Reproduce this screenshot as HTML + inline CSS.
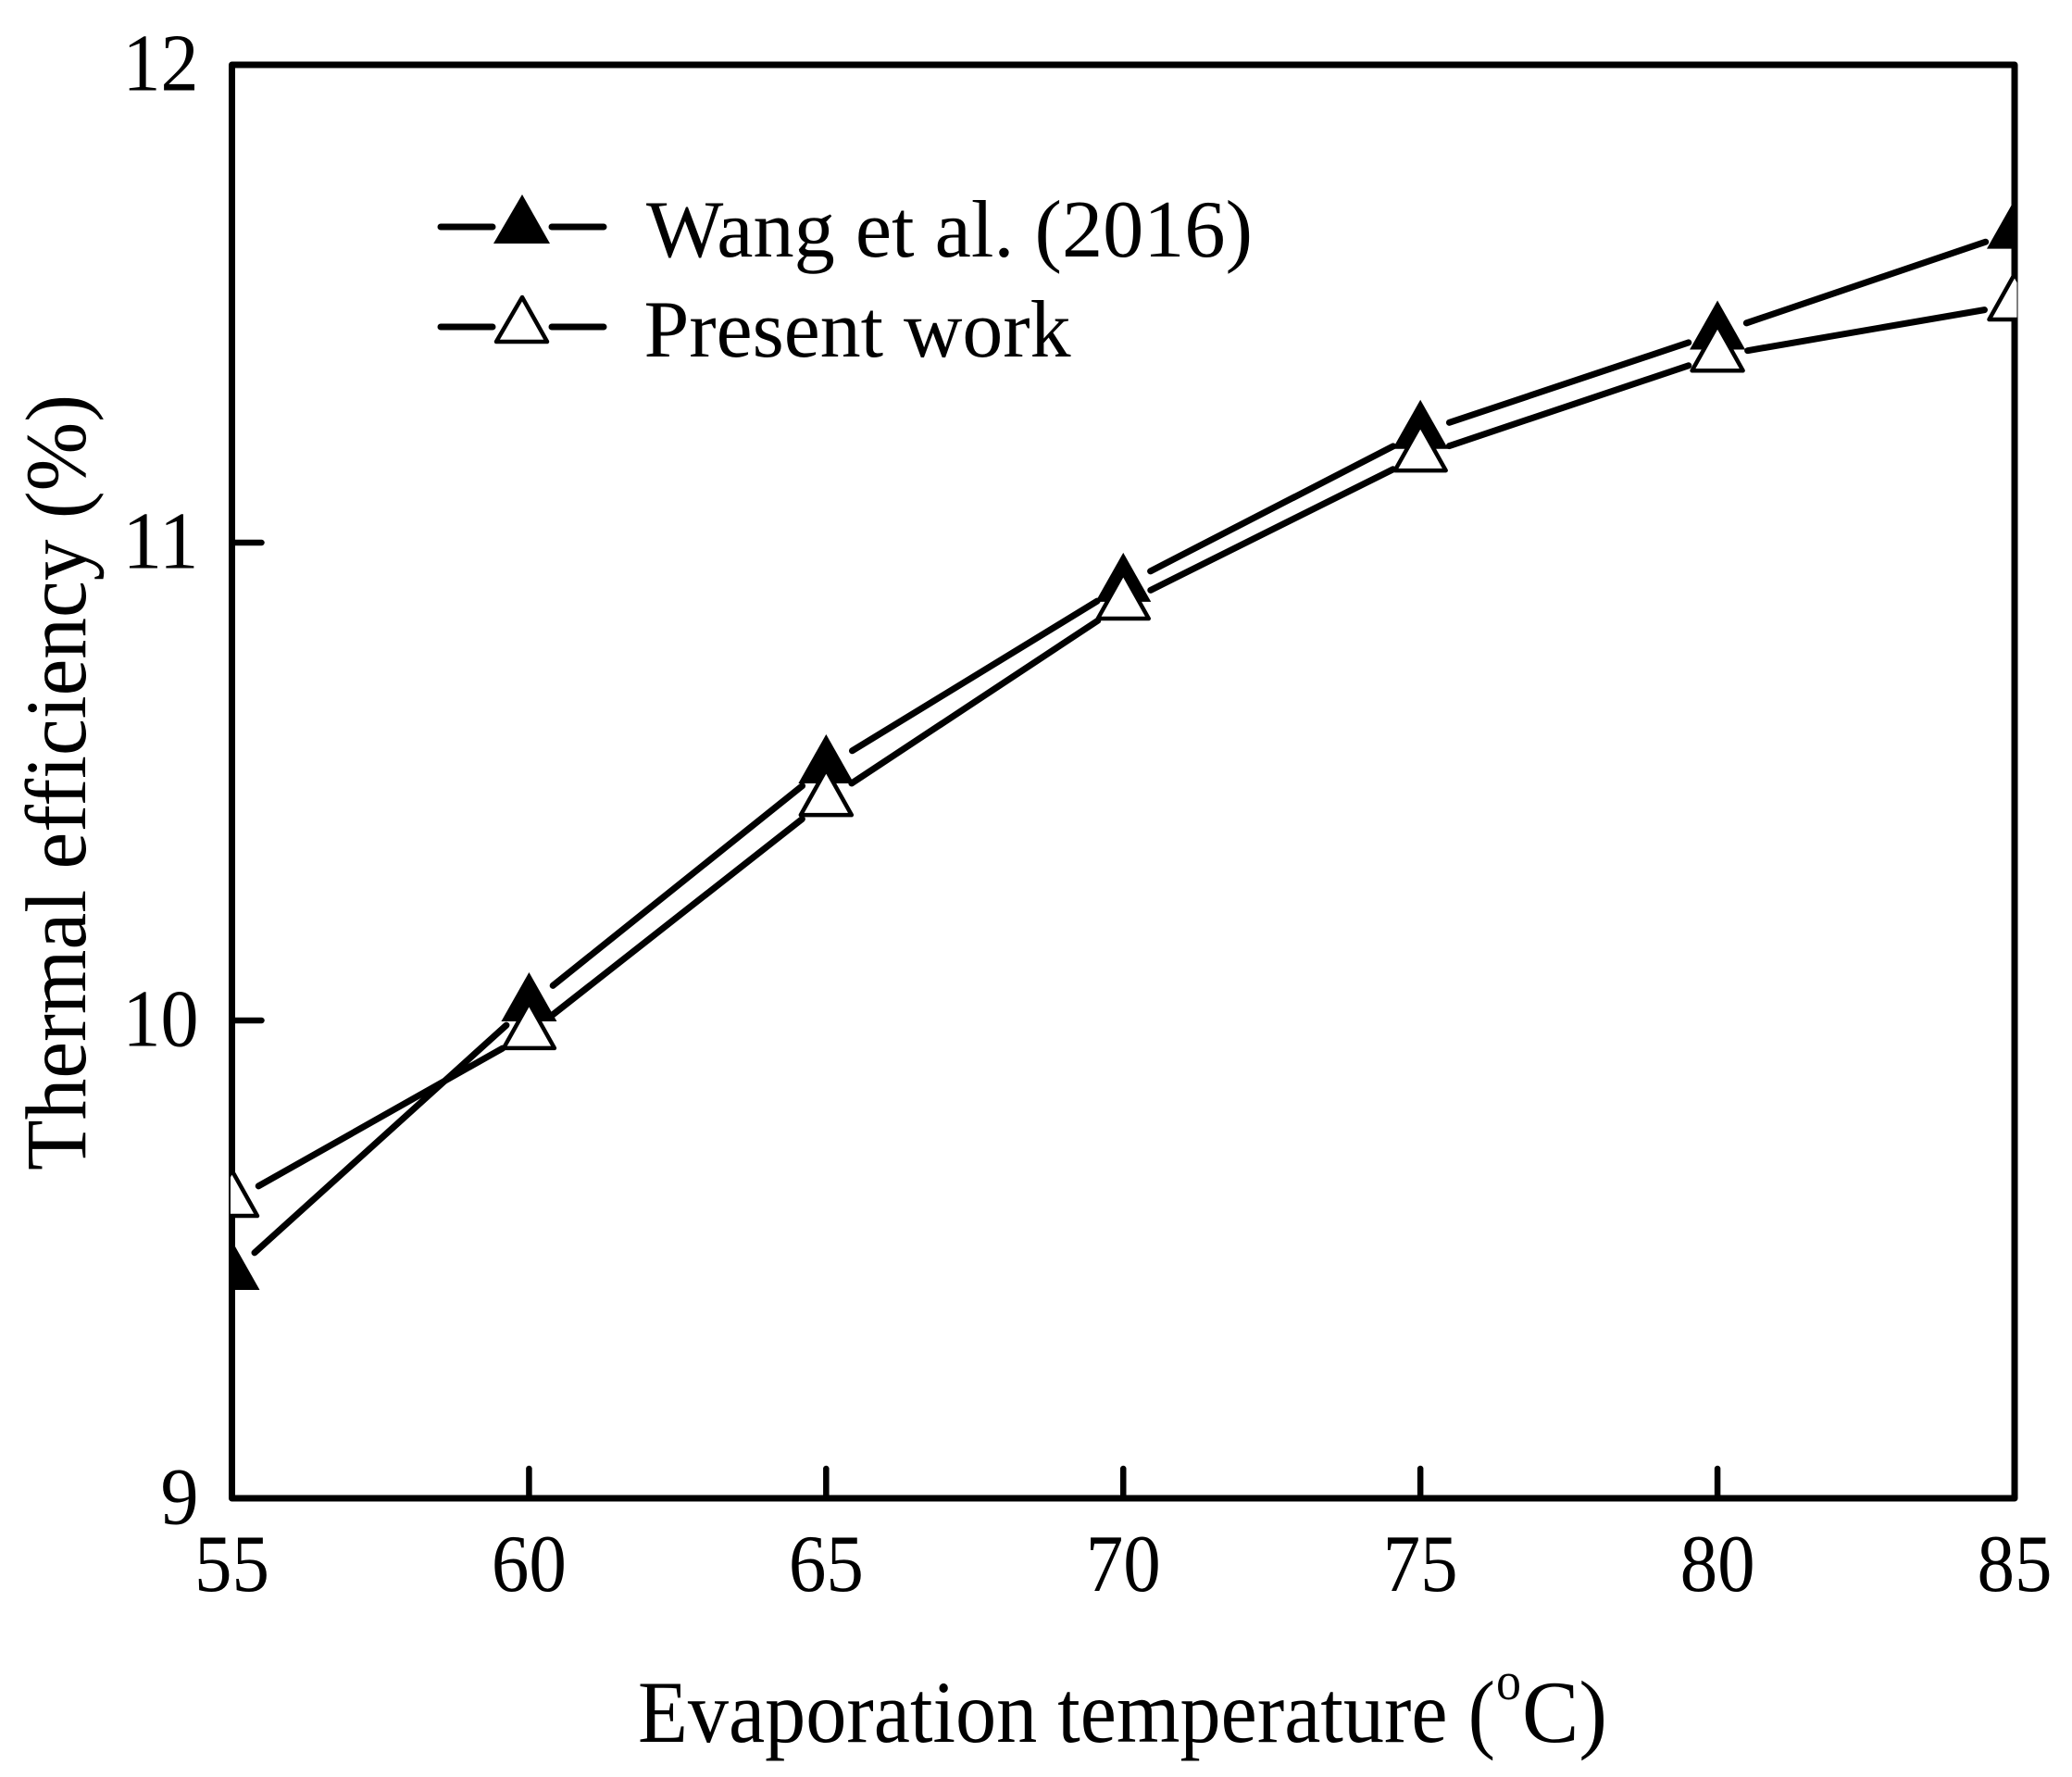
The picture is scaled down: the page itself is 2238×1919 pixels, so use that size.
<!DOCTYPE html>
<html lang="en">
<head>
<meta charset="utf-8">
<title>Thermal efficiency vs evaporation temperature</title>
<style>
html,body{margin:0;padding:0;background:#fff;width:2238px;height:1919px;overflow:hidden}
svg{display:block}
text{font-family:"Liberation Serif",serif;fill:#000;font-variant-ligatures:none;font-kerning:normal}
</style>
</head>
<body>
<svg id="chart" xmlns="http://www.w3.org/2000/svg" width="2238" height="1919" viewBox="0 0 2238 1919">
  <defs>
    <clipPath id="plot-clip"><rect x="249" y="60" width="1929.5" height="1570"/></clipPath>
  </defs>
  <rect width="2238" height="1919" fill="#fff"/>
  <g id="axes"></g>
  <g id="series"></g>
  <g id="labels"></g>
  <g>
    <g>
      <line x1="476" y1="245" x2="532" y2="245" stroke="#000" stroke-width="7" stroke-linecap="round"/>
      <line x1="596" y1="245" x2="652" y2="245" stroke="#000" stroke-width="7" stroke-linecap="round"/>
      <polygon points="564,210 594,263 533,263" fill="#000"/>
      <text x="698" y="277" font-size="88" textLength="655" lengthAdjust="spacingAndGlyphs">Wang et al. (2016)</text>
    </g>
    <g>
      <line x1="476" y1="353" x2="532" y2="353" stroke="#000" stroke-width="7" stroke-linecap="round"/>
      <line x1="596" y1="353" x2="652" y2="353" stroke="#000" stroke-width="7" stroke-linecap="round"/>
      <polygon points="564,321 591,369 536,369" fill="#fff" stroke="#000" stroke-width="4.5" stroke-linejoin="round"/>
      <text x="695.5" y="385" font-size="88" textLength="461" lengthAdjust="spacingAndGlyphs">Present work</text>
    </g>
  </g>
  <text transform="translate(92,1264) rotate(-90)" font-size="93" textLength="838" lengthAdjust="spacingAndGlyphs">Thermal efficiency (%)</text>
  <g>
    <text x="689" y="1881" font-size="95" textLength="926" lengthAdjust="spacingAndGlyphs">Evaporation temperature (</text>
    <text x="1616" y="1835" font-size="58" textLength="27" lengthAdjust="spacingAndGlyphs">o</text>
    <text x="1644" y="1881" font-size="95" textLength="92" lengthAdjust="spacingAndGlyphs">C)</text>
  </g>
</svg>
<script>
var temperatures = [55, 60, 65, 70, 75, 80, 85];
var wangValues = [9.471, 10.033, 10.531, 10.911, 11.231, 11.439, 11.65];
var presentValues = [9.622, 9.973, 10.461, 10.872, 11.182, 11.391, 11.498];
var xTickLabels = [55, 60, 65, 70, 75, 80, 85];
var yTickLabels = [9, 10, 11, 12];

var NS = 'http://www.w3.org/2000/svg';
var LEFT = 250.5, RIGHT = 2176, TOP = 70, BOTTOM = 1618;
function xScale(v) { return LEFT + (v - 55) / 30 * (RIGHT - LEFT); }
function yScale(v) { return BOTTOM - (v - 9) / 3 * (BOTTOM - TOP); }
function make(tag, attrs, parent) {
  var el = document.createElementNS(NS, tag);
  for (var k in attrs) el.setAttribute(k, attrs[k]);
  parent.appendChild(el);
  return el;
}
var axes = document.getElementById('axes');
var labels = document.getElementById('labels');
var seriesGroup = document.getElementById('series');

var frame = make('rect', {x: LEFT, y: TOP, width: RIGHT - LEFT, height: BOTTOM - TOP, fill: 'none', stroke: '#000', 'stroke-width': 7, 'stroke-linejoin': 'round'}, axes);



xTickLabels.forEach(function (t) {
  var x = xScale(t);
  if (t !== 55 && t !== 85) {
    var tick = make('line', {x1: x, x2: x, y1: BOTTOM, y2: BOTTOM - 32, stroke: '#000', 'stroke-width': 6.5, 'stroke-linecap': 'round'}, axes);
    
    
  }
  var lab = make('text', {x: x, y: 1718, 'font-size': 88, 'text-anchor': 'middle', textLength: 81, lengthAdjust: 'spacingAndGlyphs'}, labels);
  
  
  lab.textContent = t;
});
yTickLabels.forEach(function (t) {
  var y = yScale(t);
  if (t !== 9 && t !== 12) {
    var tick = make('line', {x1: LEFT, x2: LEFT + 32, y1: y, y2: y, stroke: '#000', 'stroke-width': 6.5, 'stroke-linecap': 'round'}, axes);
    
    
  }
  var lab = make('text', {x: 214.5, y: y + 27.5, 'font-size': 88, 'text-anchor': 'end', textLength: String(t).length * 41, lengthAdjust: 'spacingAndGlyphs'}, labels);
  
  
  lab.textContent = t;
});

function drawSeries(values, filled, name) {
  var g = make('g', {}, seriesGroup);
  
  
  var GAP = 33;
  for (var i = 0; i < values.length - 1; i++) {
    var x1 = xScale(temperatures[i]), y1 = yScale(values[i]);
    var x2 = xScale(temperatures[i + 1]), y2 = yScale(values[i + 1]);
    var len = Math.sqrt((x2 - x1) * (x2 - x1) + (y2 - y1) * (y2 - y1));
    var ux = (x2 - x1) / len, uy = (y2 - y1) / len;
    var seg = make('line', {x1: x1 + ux * GAP, y1: y1 + uy * GAP, x2: x2 - ux * GAP, y2: y2 - uy * GAP, stroke: '#000', 'stroke-width': 7, 'stroke-linecap': 'round'}, g);
    
    
  }
  var clip = make('g', {'clip-path': 'url(#plot-clip)'}, g);
  values.forEach(function (v, i) {
    var cx = xScale(temperatures[i]), cy = yScale(v);
    var pts = filled
      ? [[cx, cy - 35], [cx + 30, cy + 18], [cx - 30, cy + 18]]
      : [[cx, cy - 33], [cx + 27.5, cy + 16], [cx - 27.5, cy + 16]];
    var p = make('polygon', {points: pts.map(function (q) { return q.join(','); }).join(' '),
      fill: filled ? '#000' : '#fff', stroke: filled ? 'none' : '#000', 'stroke-width': filled ? 0 : 4.5, 'stroke-linejoin': 'round'}, clip);
    
    
  });
}
drawSeries(wangValues, true, 'series-wang');
drawSeries(presentValues, false, 'series-present');
</script>
</body>
</html>
